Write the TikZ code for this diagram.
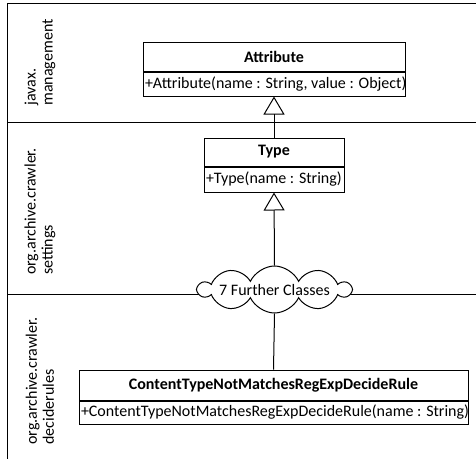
\documentclass[tikz,border=0pt]{standalone}
\usepackage{fontspec}
\setmainfont{Carlito}
\usetikzlibrary{arrows.meta,shapes.symbols}
\begin{document}
\begin{tikzpicture}[x=1pt,y=-1pt,
  every node/.style={font=\fontsize{16}{19}\selectfont},
  frame/.style={line width=1pt},
  cls/.style={draw, line width=1pt, fill=white, inner xsep=1pt, inner ysep=0pt},
  clstitle/.style={cls, font=\fontsize{16}{19}\selectfont\bfseries},
  lanelabel/.style={rotate=90, align=left, inner sep=0pt, font=\fontsize{16}{17}\selectfont},
  inherit/.style={line width=1pt, -{Triangle[open, length=18pt, width=21pt, line width=1pt]}},
  assoc/.style={line width=1pt}
]
\useasboundingbox (0,0) rectangle (476,458);
\begin{scope}
\clip (0,0) rectangle (476,458);
% frame and lanes
\draw[frame] (490,3) -- (7,3) -- (7,470);
\draw[frame] (7,122) -- (490,122);
\draw[frame] (7,294) -- (490,294);
\end{scope}
% lane labels
\node[lanelabel] (l1) at (40,62.5) {javax.\\management};
\node[lanelabel] (l2) at (40,211.5) {org.archive.crawler.\\settings};
\node[lanelabel] (l3) at (40,381) {org.archive.crawler.\\deciderules};
% Attribute
\node[clstitle, minimum width=262pt, minimum height=29pt] (attrT) at (274,56.5) {Attribute};
\node[cls, minimum width=262pt, minimum height=24pt, anchor=north] (attrM) at (attrT.south) {\makebox[258pt][l]{+Attribute(name : String, value : Object)}};
% Type
\node[clstitle, minimum width=140pt, minimum height=28pt] (typeT) at (274,152) {Type};
\node[cls, minimum width=140pt, minimum height=25pt, anchor=north] (typeM) at (typeT.south) {\makebox[136pt][l]{+Type(name : String)}};
% Cloud
\node[cloud, draw, line width=1pt, fill=white, cloud puffs=10, cloud puff arc=130, cloud ignores aspect, minimum width=135pt, minimum height=47pt, inner sep=0pt] (cloud) at (274.5,289.5) {7 Further Classes};
% ContentType
\node[clstitle, minimum width=389pt, minimum height=30pt] (ctT) at (273.5,385) {ContentTypeNotMatchesRegExpDecideRule};
\node[cls, minimum width=389pt, minimum height=23pt, anchor=north] (ctM) at (ctT.south) {\makebox[385pt][l]{+ContentTypeNotMatchesRegExpDecideRule(name : String)}};
% connectors
\draw[inherit] (typeT.north) -- (attrM.south);
\draw[inherit] (cloud.north) -- (typeM.south);
\draw[assoc] (cloud.south) -- (ctT.north);
\end{tikzpicture}
\end{document}
